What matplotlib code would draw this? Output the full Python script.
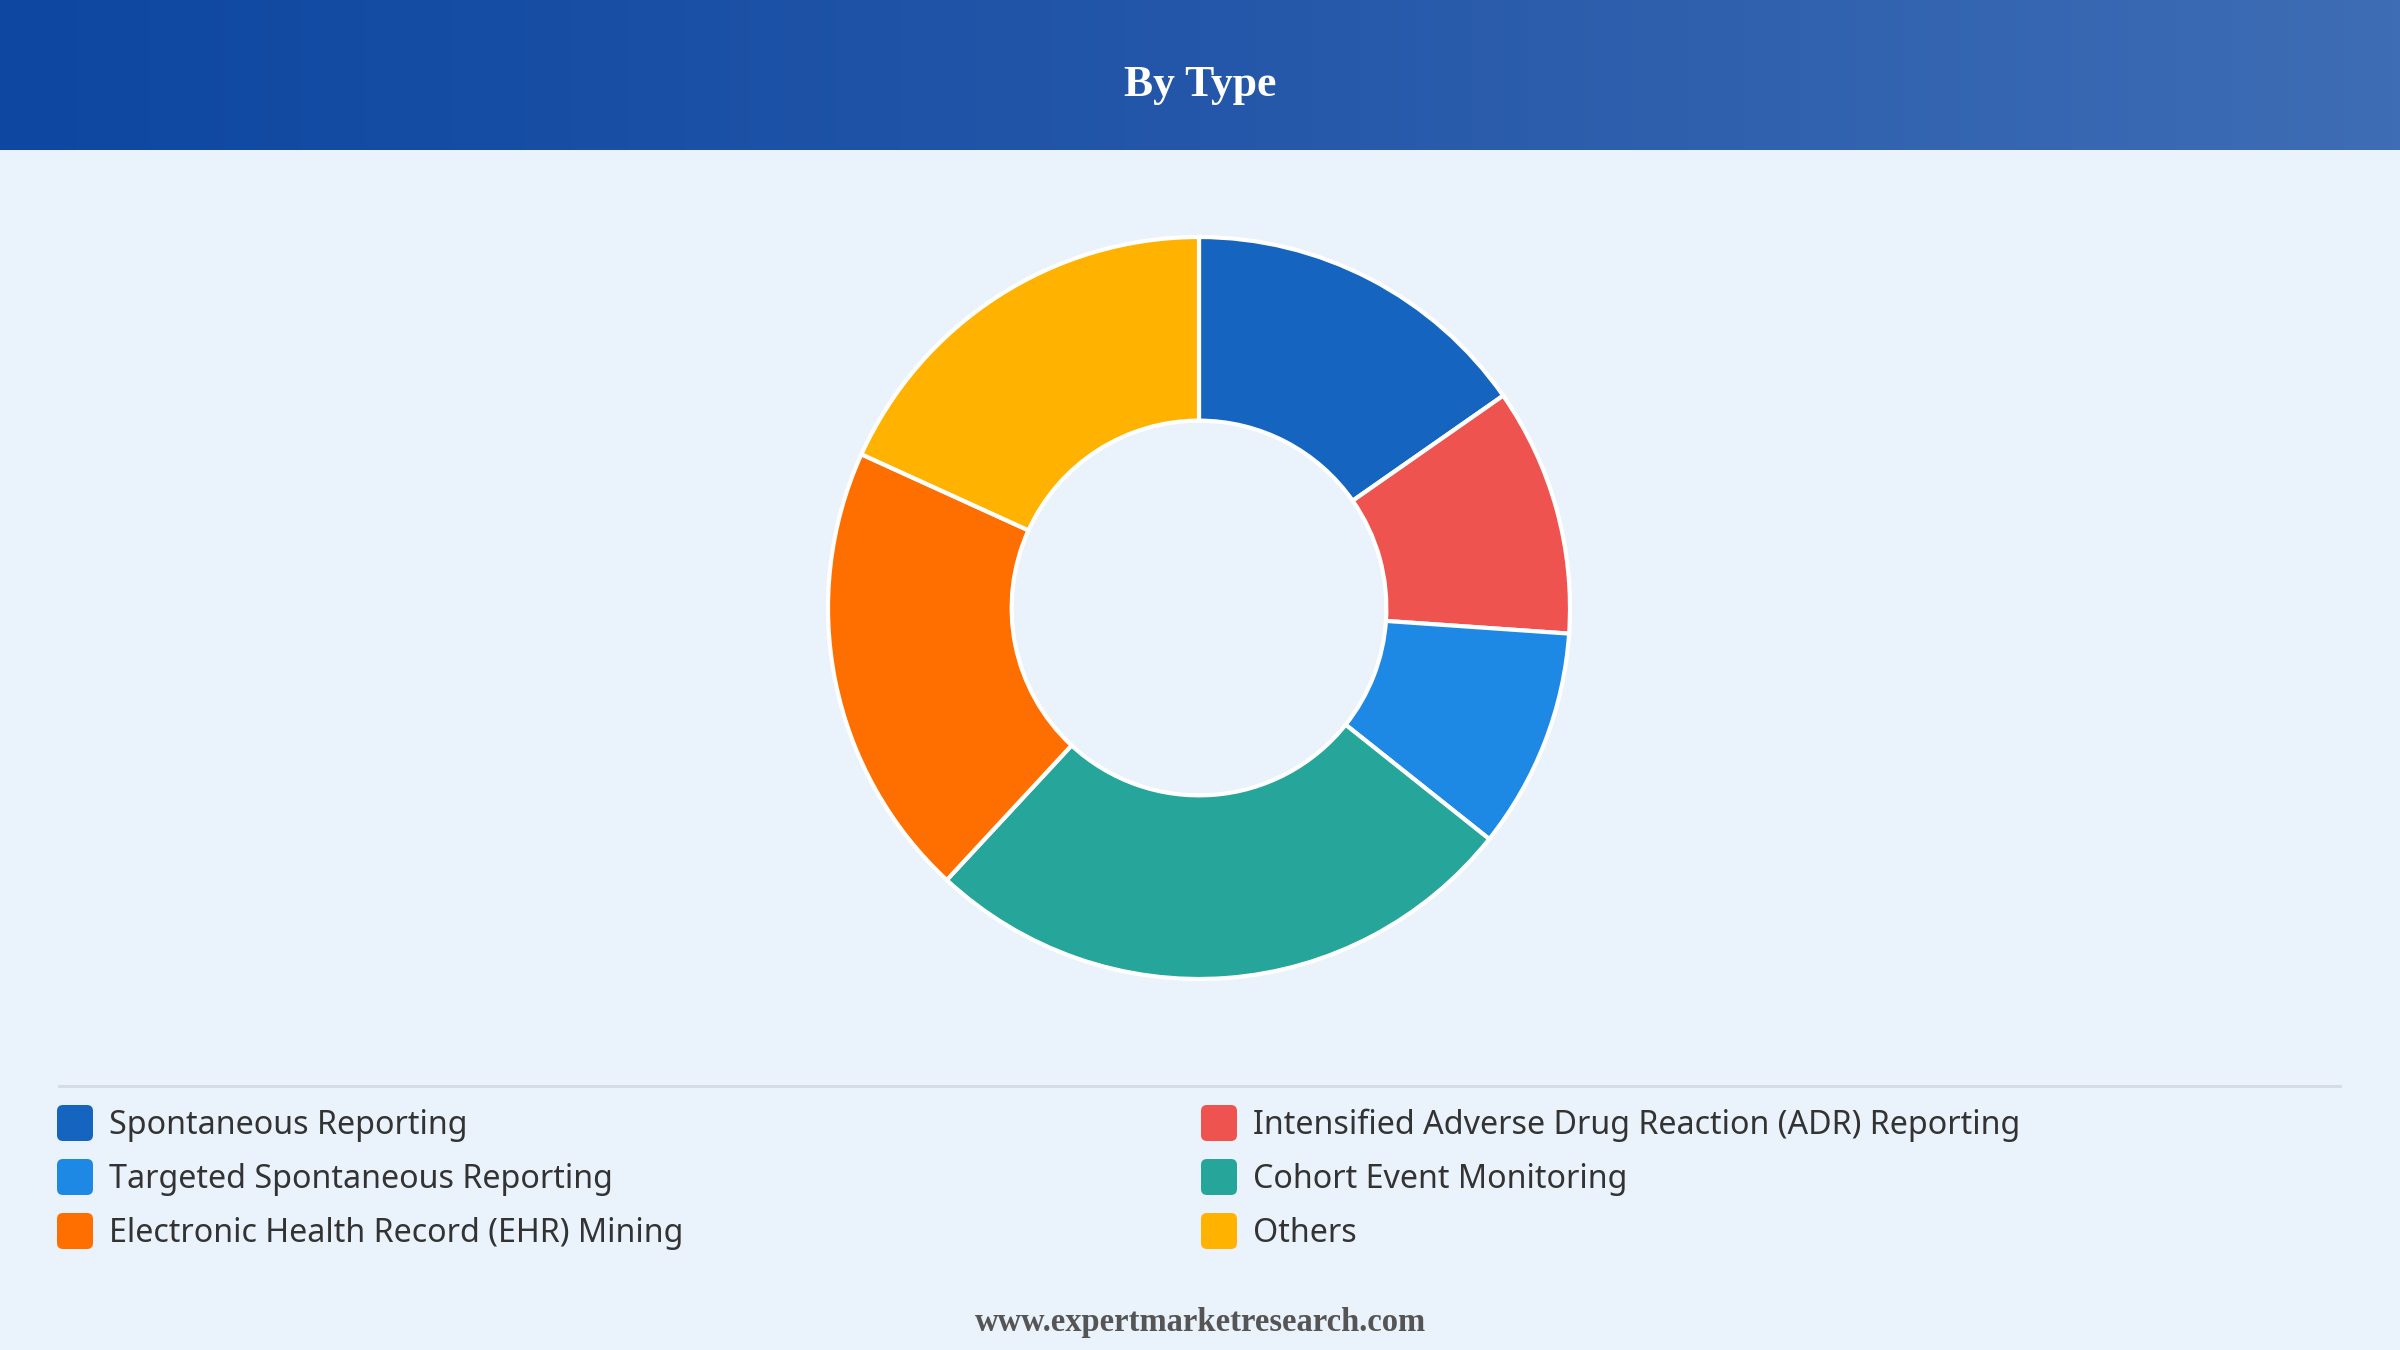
import numpy as np
import matplotlib.pyplot as plt
from matplotlib.patches import FancyBboxPatch
from matplotlib.colors import LinearSegmentedColormap

# du lieu doc tu hinh
labels = [
    "Spontaneous Reporting",
    "Intensified Adverse Drug Reaction (ADR) Reporting",
    "Targeted Spontaneous Reporting",
    "Cohort Event Monitoring",
    "Electronic Health Record (EHR) Mining",
    "Others",
]
shares = [15.3, 10.8, 9.6, 26.2, 19.9, 18.2]
colors = ["#1565C0", "#EF5350", "#1E88E5", "#26A69A", "#FF6F00", "#FFB300"]

title = "By Type"
footer = "www.expertmarketresearch.com"

W, H = 2400, 1350
bg = "#EAF2FC"

fig = plt.figure(figsize=(24, 13.5), dpi=100)
fig.patch.set_facecolor(bg)

# nen: truc toa do pixel
base = fig.add_axes([0, 0, 1, 1])
base.set_xlim(0, W)
base.set_ylim(H, 0)
base.axis("off")
base.set_facecolor(bg)

# header gradient
cmap = LinearSegmentedColormap.from_list("hdr", ["#0D47A1", "#2457A9", "#3E6DB5"])
grad = np.linspace(0, 1, 512).reshape(1, -1)
base.imshow(grad, cmap=cmap, extent=[0, W, 150, 0], aspect="auto", zorder=1)
base.set_xlim(0, W)
base.set_ylim(H, 0)
base.text(W / 2, 85, title, color="white", fontsize=31.5, fontweight="bold",
          family="Liberation Serif", ha="center", va="center", zorder=2)

# duong ke phan cach
base.plot([59, 2340], [1086, 1086], color="#D6DCE4", lw=2.2, zorder=2)

# chu thich 2 cot
col_x = [57, 1201]
row_y = [1123, 1177, 1231]
for i, (lab, c) in enumerate(zip(labels, colors)):
    cx = col_x[i % 2]
    cy = row_y[i // 2]
    box = FancyBboxPatch((cx + 3, cy - 15), 30, 30,
                         boxstyle="round,pad=3,rounding_size=6",
                         fc=c, ec="none", zorder=3)
    base.add_patch(box)
    base.text(cx + 52, cy + 2, lab, fontsize=23.2, color="#333333",
              family="Noto Sans", ha="left", va="center", zorder=3)

base.text(W / 2, 1323, footer, fontsize=23.5, fontweight="bold", color="#555555",
          family="Liberation Serif", ha="center", va="center", zorder=3)

# donut
cx, cy, r = 1199, 608, 371
ax = fig.add_axes([(cx - r) / W, (H - cy - r) / H, 2 * r / W, 2 * r / H])
ax.pie(shares, colors=colors, startangle=90, counterclock=False, radius=1,
       wedgeprops=dict(width=0.495, edgecolor="white", linewidth=3))
ax.set_xlim(-1, 1)
ax.set_ylim(-1, 1)
ax.set_aspect("equal")
ax.axis("off")
for p in ax.patches:
    p.set_clip_on(False)

fig.savefig("out.png", dpi=100, facecolor=fig.get_facecolor())
